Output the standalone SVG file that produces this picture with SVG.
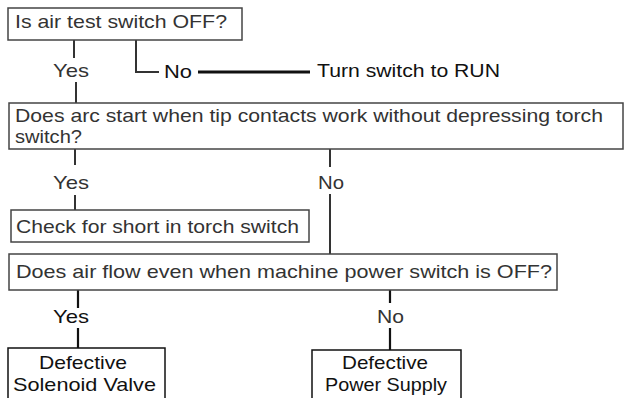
<svg xmlns="http://www.w3.org/2000/svg" width="625" height="398" viewBox="0 0 625 398">
<style>
.box{fill:#fff;stroke:#444;stroke-width:1.5}
.bbox{fill:#fff;stroke:#111;stroke-width:1.5}
.t{font-family:"Liberation Sans",Arial,sans-serif;font-size:19px;fill:#333}
.tb{font-family:"Liberation Sans",Arial,sans-serif;font-size:19px;fill:#111}
.c{fill:none;stroke:#333;stroke-width:2}
.cb{fill:none;stroke:#111;stroke-width:2.2}
</style>
<rect width="625" height="398" fill="#fff"/>
<g id="connectors">
<path class="c" d="M74 40V58M76 82V103"/>
<path class="c" d="M136 40V72H159"/>
<path d="M198 72H310" fill="none" stroke="#111" stroke-width="3"/>
<path class="c" d="M75 149V165M75 195V210"/>
<path class="c" d="M330 149V167M330 194V254"/>
<path class="cb" d="M78 290V308M78 328V348"/>
<path class="cb" d="M390 290V303M390 328V350"/>
</g>
<g id="n1">
<rect class="box" x="8" y="8" width="234" height="32"/>
<text class="t" x="15" y="28" textLength="212" lengthAdjust="spacingAndGlyphs">Is air test switch OFF?</text>
</g>
<g id="l1">
<text class="t" x="53" y="77" textLength="36" lengthAdjust="spacingAndGlyphs">Yes</text>
<text class="tb" x="164" y="78" textLength="28" lengthAdjust="spacingAndGlyphs">No</text>
</g>
<g id="n2">
<text class="tb" x="317" y="77" textLength="183" lengthAdjust="spacingAndGlyphs">Turn switch to RUN</text>
</g>
<g id="n3">
<rect class="box" x="9" y="103" width="614" height="46"/>
<text class="t" x="15" y="122" textLength="588" lengthAdjust="spacingAndGlyphs">Does arc start when tip contacts work without depressing torch</text>
<text class="t" x="15" y="143" textLength="67" lengthAdjust="spacingAndGlyphs">switch?</text>
</g>
<g id="l2">
<text class="t" x="53" y="189" textLength="36" lengthAdjust="spacingAndGlyphs">Yes</text>
<text class="t" x="318" y="189" textLength="26" lengthAdjust="spacingAndGlyphs">No</text>
</g>
<g id="n4">
<rect class="box" x="11" y="210" width="298" height="32"/>
<text class="t" x="16" y="233" textLength="283" lengthAdjust="spacingAndGlyphs">Check for short in torch switch</text>
</g>
<g id="n5">
<rect class="box" x="9" y="254" width="548" height="36"/>
<text class="t" x="16" y="278" textLength="536" lengthAdjust="spacingAndGlyphs">Does air flow even when machine power switch is OFF?</text>
</g>
<g id="l3">
<text class="tb" x="53" y="323" textLength="36" lengthAdjust="spacingAndGlyphs">Yes</text>
<text class="t" x="377" y="323" textLength="27" lengthAdjust="spacingAndGlyphs">No</text>
</g>
<g id="n6">
<rect class="bbox" x="8" y="348" width="157" height="60"/>
<text class="tb" x="39" y="369" textLength="88" lengthAdjust="spacingAndGlyphs">Defective</text>
<text class="tb" x="13" y="391" textLength="143" lengthAdjust="spacingAndGlyphs">Solenoid Valve</text>
</g>
<g id="n7">
<rect class="bbox" x="312" y="350" width="149" height="60"/>
<text class="tb" x="342" y="369" textLength="86" lengthAdjust="spacingAndGlyphs">Defective</text>
<text class="tb" x="325" y="391" textLength="122" lengthAdjust="spacingAndGlyphs">Power Supply</text>
</g>
</svg>
